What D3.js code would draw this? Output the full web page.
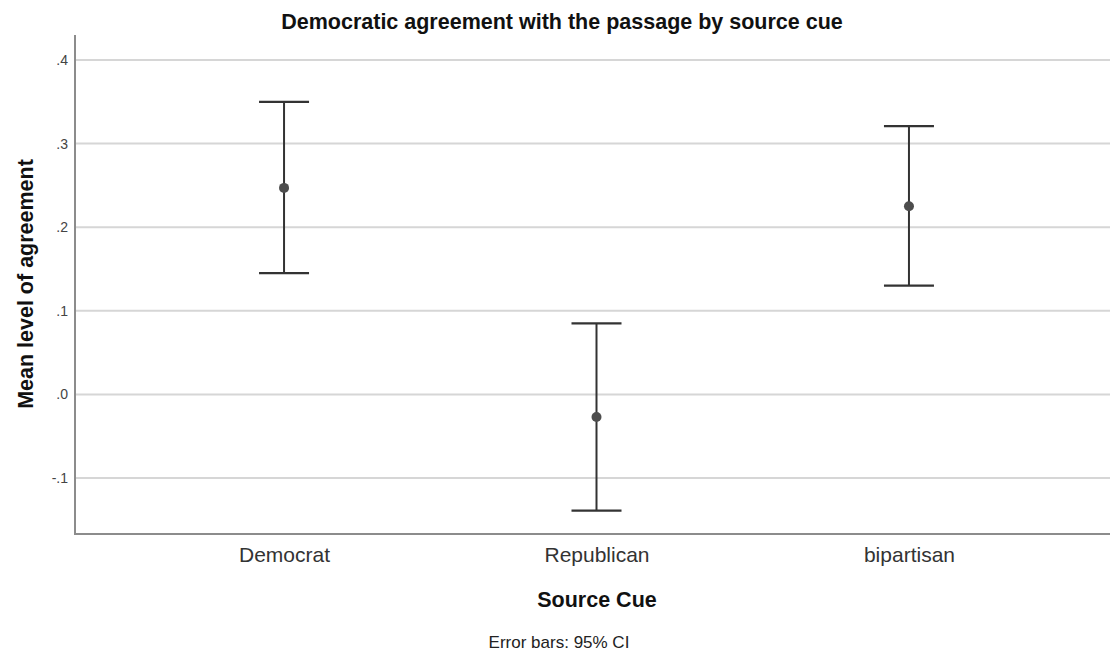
<!DOCTYPE html>
<html>
<head>
<meta charset="utf-8">
<script src="https://cdn.jsdelivr.net/npm/d3@7"></script>
<style>
  body { margin: 0; background: #fff; }
  svg { display: block; font-family: "Liberation Sans", Arial, sans-serif; }
</style>
</head>
<body>
<svg id="chart" width="1110" height="654"></svg>
<script>
const categories = ["Democrat", "Republican", "bipartisan"];
const means = [0.247, -0.027, 0.225];
const ciLower = [0.145, -0.139, 0.130];
const ciUpper = [0.350, 0.085, 0.321];
const yTicks = [-0.1, 0.0, 0.1, 0.2, 0.3, 0.4];
const yTickLabels = ["-.1", ".0", ".1", ".2", ".3", ".4"];

(function () {
const svg = d3.select("#chart");
const plotLeft = 75, plotRight = 1118, plotTop = 35, plotBottom = 534;

const x = d3.scalePoint().domain(categories).range([plotLeft, plotRight]).padding(0.669);
const y = d3.scaleLinear().domain([-0.1, 0.4]).range([478, 60]);

// gridlines
svg.append("g").selectAll("line").data(yTicks).join("line")
  .attr("x1", plotLeft).attr("x2", 1110)
  .attr("y1", d => y(d)).attr("y2", d => y(d))
  .attr("stroke", "#d6d6d6").attr("stroke-width", 2);

// y axis
const yAxis = d3.axisLeft(y).tickValues(yTicks).tickFormat((d, i) => yTickLabels[i]).tickSize(0).tickPadding(7);
const gy = svg.append("g").attr("transform", `translate(${plotLeft},0)`).call(yAxis);
gy.select(".domain").remove();
gy.selectAll("text").attr("font-size", 14).attr("fill", "#444").attr("font-family", "Liberation Sans, Arial, sans-serif");
svg.append("line").attr("x1", plotLeft).attr("x2", plotLeft).attr("y1", plotTop).attr("y2", plotBottom + 1)
  .attr("stroke", "#8c8c8c").attr("stroke-width", 2);

// x axis
const xAxis = d3.axisBottom(x).tickSize(0).tickPadding(13);
const gx = svg.append("g").attr("transform", `translate(0,${plotBottom})`).call(xAxis);
gx.select(".domain").remove();
gx.selectAll("text").attr("font-size", 21).attr("fill", "#333").attr("font-family", "Liberation Sans, Arial, sans-serif");
svg.append("line").attr("x1", plotLeft - 1).attr("x2", 1110).attr("y1", plotBottom).attr("y2", plotBottom)
  .attr("stroke", "#8c8c8c").attr("stroke-width", 2);

// error bars
const capW = 25;
const g = svg.append("g");
categories.forEach((c, i) => {
  const cx = x(c);
  g.append("line").attr("x1", cx).attr("x2", cx).attr("y1", y(ciUpper[i])).attr("y2", y(ciLower[i]))
    .attr("stroke", "#333").attr("stroke-width", 2);
  g.append("line").attr("x1", cx - capW).attr("x2", cx + capW).attr("y1", y(ciUpper[i])).attr("y2", y(ciUpper[i]))
    .attr("stroke", "#333").attr("stroke-width", 2.2);
  g.append("line").attr("x1", cx - capW).attr("x2", cx + capW).attr("y1", y(ciLower[i])).attr("y2", y(ciLower[i]))
    .attr("stroke", "#333").attr("stroke-width", 2.2);
  g.append("circle").attr("cx", cx).attr("cy", y(means[i])).attr("r", 5).attr("fill", "#4d4d4d");
});

// titles
svg.append("text").attr("x", 562).attr("y", 29).attr("text-anchor", "middle")
  .attr("font-size", 21.5).attr("font-weight", "bold").attr("fill", "#111")
  .text("Democratic agreement with the passage by source cue");
svg.append("text").attr("transform", "translate(33,284) rotate(-90)").attr("text-anchor", "middle")
  .attr("font-size", 21.5).attr("font-weight", "bold").attr("fill", "#111")
  .text("Mean level of agreement");
svg.append("text").attr("x", 597).attr("y", 607).attr("text-anchor", "middle")
  .attr("font-size", 21.5).attr("font-weight", "bold").attr("fill", "#111")
  .text("Source Cue");
svg.append("text").attr("x", 559).attr("y", 648).attr("text-anchor", "middle")
  .attr("font-size", 17).attr("fill", "#222")
  .text("Error bars: 95% CI");
})();
</script>
</body>
</html>
